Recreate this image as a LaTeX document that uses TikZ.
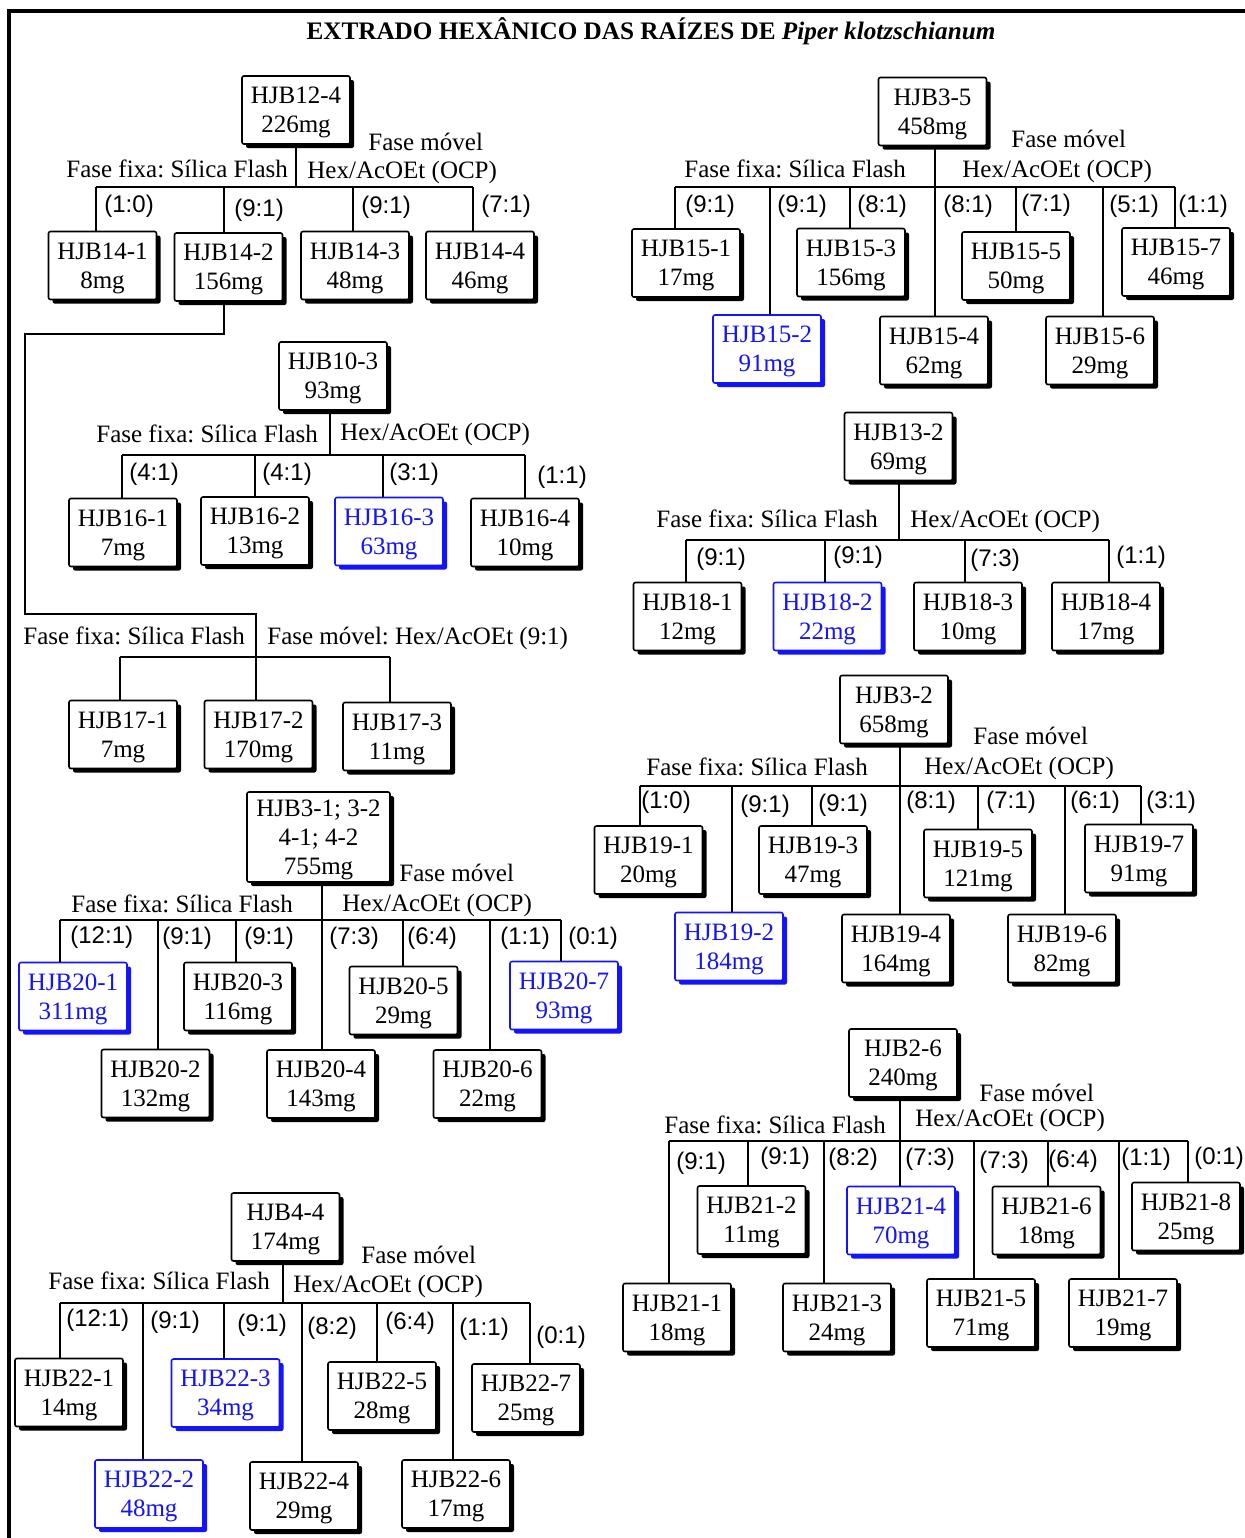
\documentclass[tikz,border=0pt]{standalone}
\usepackage{fontspec}
\setmainfont{Liberation Serif}
\newfontfamily\sansr{Liberation Sans}
\usetikzlibrary{shadows}
\definecolor{hblue}{RGB}{20,20,250}
\frenchspacing
\newcommand\boxfont{\fontsize{12.5}{14.5}\selectfont}
\newcommand\ratfont{\sansr\fontsize{12}{14}\selectfont}
\newcommand\dropto[2]{\draw[conn] (#1) -- (#1 |- #2.north);}
\begin{document}
\begin{tikzpicture}[x=0.5pt,y=-0.5pt,
 boxbase/.style={draw, fill=white, rounded corners=1pt, line width=0.8pt, minimum width=54pt, minimum height=34pt, inner sep=1pt, align=center, font=\boxfont, text depth=-1pt},
 bbox/.style={boxbase, drop shadow={shadow xshift=2pt, shadow yshift=-2pt, fill=black, opacity=1}},
 ubox/.style={boxbase, draw=hblue, text=hblue, drop shadow={shadow xshift=2pt, shadow yshift=-2pt, fill=hblue, opacity=1}},
 conn/.style={line width=0.6pt},
 lab/.style={anchor=west, inner sep=0pt, font=\boxfont},
 rat/.style={anchor=west, inner sep=0pt, font=\ratfont}]
\useasboundingbox (0,0) rectangle (1244,1538);
% frame
\draw[line width=1.6pt] (9,1545) -- (9,11) -- (1250,11);
\node[font=\bfseries\fontsize{12.6}{15}\selectfont] (title) at (651,31) {EXTRADO HEXÂNICO DAS RAÍZES DE \textit{Piper klotzschianum}};

% ===== Tree 1 : HJB12-4
\node[bbox] (r1) at (296,110) {HJB12-4\\226mg};
\node[bbox] (c14a) at (102.5,265.5) {HJB14-1\\8mg};
\node[bbox] (c14b) at (228.5,267) {HJB14-2\\156mg};
\node[bbox] (c14c) at (355,265.5) {HJB14-3\\48mg};
\node[bbox] (c14d) at (480,265.5) {HJB14-4\\46mg};
\node[lab] (fm1) at (368,142) {Fase móvel};
\node[lab] (ff1) at (66,169) {Fase fixa: Sílica Flash};
\node[lab] (hx1) at (307,172) {Hex/AcOEt (OCP)};
\node[rat] (q1a) at (104,206) {(1:0)};
\node[rat] (q1b) at (234,210) {(9:1)};
\node[rat] (q1c) at (361,207) {(9:1)};
\node[rat] (q1d) at (481,206) {(7:1)};
\coordinate (t1a) at (96,187);
\coordinate (t1b) at (224,187);
\coordinate (t1c) at (353,187);
\coordinate (t1d) at (473,187);
\draw[conn] (t1a) -- (t1d);
\draw[conn] (r1.south) -- (r1.south |- t1a);
\dropto{t1a}{c14a}\dropto{t1b}{c14b}\dropto{t1c}{c14c}\dropto{t1d}{c14d}

% ===== Tree 2 : HJB10-3
\node[bbox] (r2) at (333,376) {HJB10-3\\93mg};
\node[bbox] (c16a) at (123,532.5) {HJB16-1\\7mg};
\node[bbox] (c16b) at (255,531) {HJB16-2\\13mg};
\node[ubox] (c16c) at (389,531.5) {HJB16-3\\63mg};
\node[bbox] (c16d) at (525,532.5) {HJB16-4\\10mg};
\node[lab] (ff2) at (96,434) {Fase fixa: Sílica Flash};
\node[lab] (hx2) at (340,434) {Hex/AcOEt (OCP)};
\node[rat] (q2a) at (129,474) {(4:1)};
\node[rat] (q2b) at (262,474) {(4:1)};
\node[rat] (q2c) at (389,474) {(3:1)};
\node[rat] (q2d) at (537,477) {(1:1)};
\coordinate (t2a) at (122,455);
\coordinate (t2b) at (255,455);
\coordinate (t2c) at (383,455);
\coordinate (t2d) at (525,455);
\coordinate (t2r) at (330,455);
\draw[conn] (t2a) -- (t2d);
\draw[conn] (t2r |- r2.south) -- (t2r);
\dropto{t2a}{c16a}\dropto{t2b}{c16b}\dropto{t2c}{c16c}\dropto{t2d}{c16d}

% ===== Tree 3 : from HJB14-2
\node[bbox] (c17a) at (123,734.5) {HJB17-1\\7mg};
\node[bbox] (c17b) at (258.5,734.5) {HJB17-2\\170mg};
\node[bbox] (c17c) at (397,736.5) {HJB17-3\\11mg};
\node[lab] (ff3) at (23,636) {Fase fixa: Sílica Flash};
\node[lab] (fm3) at (267,638) {Fase móvel: Hex/AcOEt (9:1)};
\coordinate (j1) at (224,334);
\coordinate (j2) at (25,334);
\coordinate (j3) at (25,614);
\coordinate (j4) at (256,614);
\draw[conn] (j1 |- c14b.south) -- (j1) -- (j2) -- (j3) -- (j4) -- (j4 |- c17b.north);
\coordinate (t3a) at (120,657);
\coordinate (t3c) at (390,657);
\draw[conn] (t3a) -- (t3c);
\dropto{t3a}{c17a}\dropto{t3c}{c17c}

% ===== Tree 4 : HJB3-1; 3-2 4-1; 4-2
\node[bbox, minimum width=71.5pt, minimum height=45pt] (r4) at (318.5,837) {HJB3-1; 3-2\\4-1; 4-2\\755mg};
\node[ubox] (c20a) at (73,996.5) {HJB20-1\\311mg};
\node[bbox] (c20b) at (155.5,1083.5) {HJB20-2\\132mg};
\node[bbox] (c20c) at (238,996.5) {HJB20-3\\116mg};
\node[bbox] (c20d) at (321,1084) {HJB20-4\\143mg};
\node[bbox] (c20e) at (403.5,1000.5) {HJB20-5\\29mg};
\node[bbox] (c20f) at (487.5,1084) {HJB20-6\\22mg};
\node[ubox] (c20g) at (564,995.5) {HJB20-7\\93mg};
\node[lab] (fm4) at (399,873) {Fase móvel};
\node[lab] (ff4) at (71,904) {Fase fixa: Sílica Flash};
\node[lab] (hx4) at (342,905) {Hex/AcOEt (OCP)};
\node[rat] (q4a) at (70,937) {(12:1)};
\node[rat] (q4b) at (162,938) {(9:1)};
\node[rat] (q4c) at (244,938) {(9:1)};
\node[rat] (q4d) at (329,938) {(7:3)};
\node[rat] (q4e) at (407,938) {(6:4)};
\node[rat] (q4f) at (500,938) {(1:1)};
\node[rat] (q4g) at (568,938) {(0:1)};
\coordinate (t4a) at (60,920);
\coordinate (t4b) at (158,920);
\coordinate (t4c) at (236,920);
\coordinate (t4d) at (322,920);
\coordinate (t4e) at (403,920);
\coordinate (t4f) at (490,920);
\coordinate (t4g) at (561,920);
\draw[conn] (t4a) -- (t4g);
\draw[conn] (t4d |- r4.south) -- (t4d);
\dropto{t4a}{c20a}\dropto{t4b}{c20b}\dropto{t4c}{c20c}\dropto{t4d}{c20d}
\dropto{t4e}{c20e}\dropto{t4f}{c20f}\dropto{t4g}{c20g}

% ===== Tree 5 : HJB4-4
\node[bbox] (r5) at (285.5,1227) {HJB4-4\\174mg};
\node[bbox] (c22a) at (69,1392.5) {HJB22-1\\14mg};
\node[ubox] (c22b) at (149,1494) {HJB22-2\\48mg};
\node[ubox] (c22c) at (225.5,1393) {HJB22-3\\34mg};
\node[bbox] (c22d) at (304,1496) {HJB22-4\\29mg};
\node[bbox] (c22e) at (382,1396) {HJB22-5\\28mg};
\node[bbox] (c22f) at (456,1494) {HJB22-6\\17mg};
\node[bbox] (c22g) at (526,1398) {HJB22-7\\25mg};
\node[lab] (fm5) at (361,1255) {Fase móvel};
\node[lab] (ff5) at (48,1281) {Fase fixa: Sílica Flash};
\node[lab] (hx5) at (293,1286) {Hex/AcOEt (OCP)};
\node[rat] (q5a) at (66,1320) {(12:1)};
\node[rat] (q5b) at (150,1322) {(9:1)};
\node[rat] (q5c) at (237,1325) {(9:1)};
\node[rat] (q5d) at (307,1328) {(8:2)};
\node[rat] (q5e) at (385,1323) {(6:4)};
\node[rat] (q5f) at (459,1329) {(1:1)};
\node[rat] (q5g) at (536,1337) {(0:1)};
\coordinate (t5a) at (60,1303);
\coordinate (t5b) at (143,1303);
\coordinate (t5c) at (224,1303);
\coordinate (t5d) at (302,1303);
\coordinate (t5e) at (377,1303);
\coordinate (t5f) at (453,1303);
\coordinate (t5g) at (530,1303);
\coordinate (t5r) at (283,1303);
\draw[conn] (t5a) -- (t5g);
\draw[conn] (t5r |- r5.south) -- (t5r);
\dropto{t5a}{c22a}\dropto{t5b}{c22b}\dropto{t5c}{c22c}\dropto{t5d}{c22d}
\dropto{t5e}{c22e}\dropto{t5f}{c22f}\dropto{t5g}{c22g}

% ===== Tree 6 : HJB3-5
\node[bbox] (r6) at (932.5,111.5) {HJB3-5\\458mg};
\node[bbox] (c15a) at (686,263) {HJB15-1\\17mg};
\node[ubox] (c15b) at (767,349) {HJB15-2\\91mg};
\node[bbox] (c15c) at (851,262.5) {HJB15-3\\156mg};
\node[bbox] (c15d) at (934,350.5) {HJB15-4\\62mg};
\node[bbox] (c15e) at (1016,266) {HJB15-5\\50mg};
\node[bbox] (c15f) at (1100,350.5) {HJB15-6\\29mg};
\node[bbox] (c15g) at (1176,262) {HJB15-7\\46mg};
\node[lab] (fm6) at (1011,139) {Fase móvel};
\node[lab] (ff6) at (684,169) {Fase fixa: Sílica Flash};
\node[lab] (hx6) at (962,171) {Hex/AcOEt (OCP)};
\node[rat] (q6a) at (685,206) {(9:1)};
\node[rat] (q6b) at (777,206) {(9:1)};
\node[rat] (q6c) at (857,206) {(8:1)};
\node[rat] (q6d) at (943,206) {(8:1)};
\node[rat] (q6e) at (1021,205) {(7:1)};
\node[rat] (q6f) at (1109,206) {(5:1)};
\node[rat] (q6g) at (1178,206) {(1:1)};
\coordinate (t6a) at (675,187);
\coordinate (t6b) at (770,187);
\coordinate (t6c) at (850,187);
\coordinate (t6d) at (935,187);
\coordinate (t6e) at (1016,187);
\coordinate (t6f) at (1103,187);
\coordinate (t6g) at (1175,187);
\draw[conn] (t6a) -- (t6g);
\draw[conn] (t6d |- r6.south) -- (t6d);
\dropto{t6a}{c15a}\dropto{t6b}{c15b}\dropto{t6c}{c15c}\dropto{t6d}{c15d}
\dropto{t6e}{c15e}\dropto{t6f}{c15f}\dropto{t6g}{c15g}

% ===== Tree 7 : HJB13-2
\node[bbox] (r7) at (898.5,446.5) {HJB13-2\\69mg};
\node[bbox] (c18a) at (687.5,616.5) {HJB18-1\\12mg};
\node[ubox] (c18b) at (827.5,616.5) {HJB18-2\\22mg};
\node[bbox] (c18c) at (968,616.5) {HJB18-3\\10mg};
\node[bbox] (c18d) at (1106,616.5) {HJB18-4\\17mg};
\node[lab] (ff7) at (656,519) {Fase fixa: Sílica Flash};
\node[lab] (hx7) at (910,521) {Hex/AcOEt (OCP)};
\node[rat] (q7a) at (696,559) {(9:1)};
\node[rat] (q7b) at (833,557) {(9:1)};
\node[rat] (q7c) at (970,560) {(7:3)};
\node[rat] (q7d) at (1116,557) {(1:1)};
\coordinate (t7a) at (686,540);
\coordinate (t7b) at (825,540);
\coordinate (t7c) at (965,540);
\coordinate (t7d) at (1109,540);
\coordinate (t7r) at (899,540);
\draw[conn] (t7a) -- (t7d);
\draw[conn] (t7r |- r7.south) -- (t7r);
\dropto{t7a}{c18a}\dropto{t7b}{c18b}\dropto{t7c}{c18c}\dropto{t7d}{c18d}

% ===== Tree 8 : HJB3-2
\node[bbox] (r8) at (894,709.5) {HJB3-2\\658mg};
\node[bbox] (c19a) at (648.5,860) {HJB19-1\\20mg};
\node[ubox] (c19b) at (729,946.5) {HJB19-2\\184mg};
\node[bbox] (c19c) at (813,860) {HJB19-3\\47mg};
\node[bbox] (c19d) at (896,948.5) {HJB19-4\\164mg};
\node[bbox] (c19e) at (978,863.5) {HJB19-5\\121mg};
\node[bbox] (c19f) at (1062,948.5) {HJB19-6\\82mg};
\node[bbox] (c19g) at (1139,858.5) {HJB19-7\\91mg};
\node[lab] (fm8) at (973,736) {Fase móvel};
\node[lab] (ff8) at (646,767) {Fase fixa: Sílica Flash};
\node[lab] (hx8) at (924,768) {Hex/AcOEt (OCP)};
\node[rat] (q8a) at (641,802) {(1:0)};
\node[rat] (q8b) at (740,806) {(9:1)};
\node[rat] (q8c) at (818,805) {(9:1)};
\node[rat] (q8d) at (906,802) {(8:1)};
\node[rat] (q8e) at (986,802) {(7:1)};
\node[rat] (q8f) at (1070,802) {(6:1)};
\node[rat] (q8g) at (1146,802) {(3:1)};
\coordinate (t8a) at (640,786);
\coordinate (t8b) at (732,786);
\coordinate (t8c) at (812,786);
\coordinate (t8d) at (900,786);
\coordinate (t8e) at (978,786);
\coordinate (t8f) at (1065,786);
\coordinate (t8g) at (1141,786);
\draw[conn] (t8a) -- (t8g);
\draw[conn] (t8d |- r8.south) -- (t8d);
\dropto{t8a}{c19a}\dropto{t8b}{c19b}\dropto{t8c}{c19c}\dropto{t8d}{c19d}
\dropto{t8e}{c19e}\dropto{t8f}{c19f}\dropto{t8g}{c19g}

% ===== Tree 9 : HJB2-6
\node[bbox] (r9) at (903,1063) {HJB2-6\\240mg};
\node[bbox] (c21a) at (677,1317.5) {HJB21-1\\18mg};
\node[bbox] (c21b) at (751.5,1220) {HJB21-2\\11mg};
\node[bbox] (c21c) at (837,1317.5) {HJB21-3\\24mg};
\node[ubox] (c21d) at (901,1220.5) {HJB21-4\\70mg};
\node[bbox] (c21e) at (981,1313) {HJB21-5\\71mg};
\node[bbox] (c21f) at (1046.5,1220.5) {HJB21-6\\18mg};
\node[bbox] (c21g) at (1123,1313) {HJB21-7\\19mg};
\node[bbox] (c21h) at (1186,1216.5) {HJB21-8\\25mg};
\node[lab] (fm9) at (979,1093) {Fase móvel};
\node[lab] (ff9) at (664,1125) {Fase fixa: Sílica Flash};
\node[lab] (hx9) at (915,1120) {Hex/AcOEt (OCP)};
\node[rat] (q9a) at (676,1163) {(9:1)};
\node[rat] (q9b) at (760,1158) {(9:1)};
\node[rat] (q9c) at (828,1159) {(8:2)};
\node[rat] (q9d) at (905,1159) {(7:3)};
\node[rat] (q9e) at (979,1162) {(7:3)};
\node[rat] (q9f) at (1048,1161) {(6:4)};
\node[rat] (q9g) at (1121,1159) {(1:1)};
\node[rat] (q9h) at (1194,1158) {(0:1)};
\coordinate (t9a) at (669,1141);
\coordinate (t9b) at (748,1141);
\coordinate (t9c) at (824,1141);
\coordinate (t9d) at (900,1141);
\coordinate (t9e) at (974,1141);
\coordinate (t9f) at (1048,1141);
\coordinate (t9g) at (1119,1141);
\coordinate (t9h) at (1188,1141);
\draw[conn] (t9a) -- (t9h);
\draw[conn] (t9d |- r9.south) -- (t9d);
\dropto{t9a}{c21a}\dropto{t9b}{c21b}\dropto{t9c}{c21c}\dropto{t9d}{c21d}
\dropto{t9e}{c21e}\dropto{t9f}{c21f}\dropto{t9g}{c21g}\dropto{t9h}{c21h}
\end{tikzpicture}
\end{document}
